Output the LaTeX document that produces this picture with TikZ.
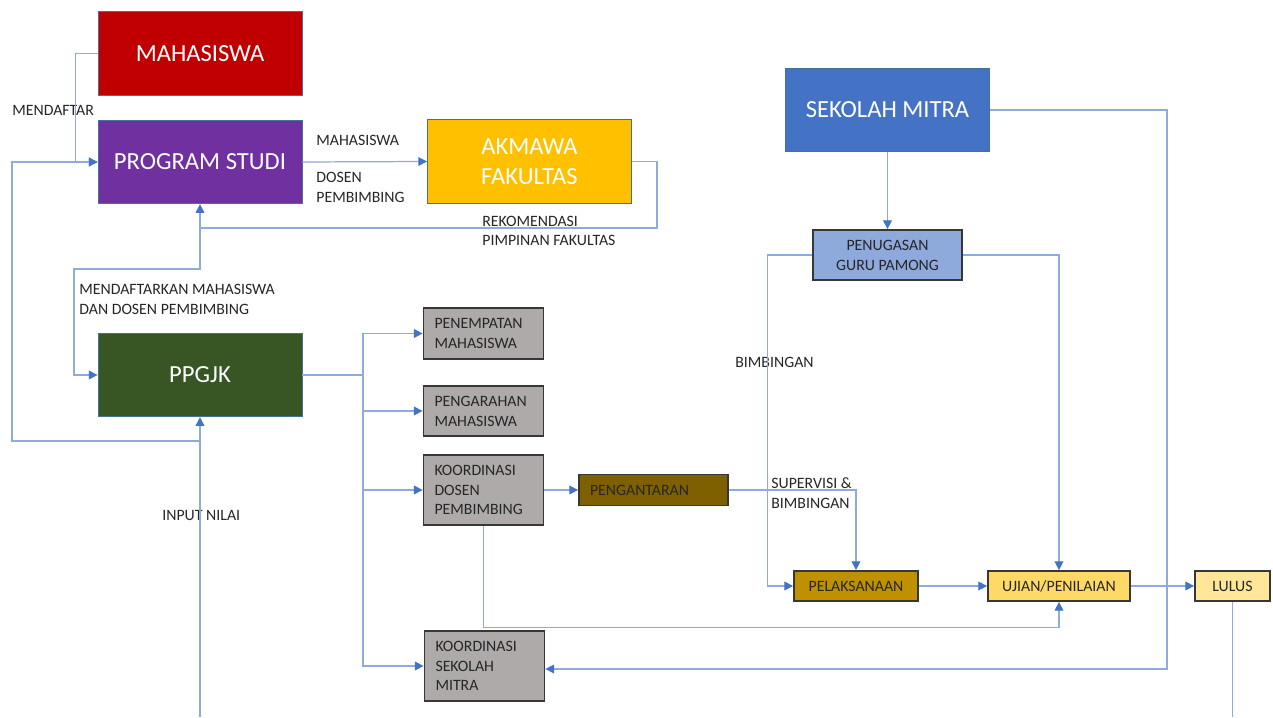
\documentclass[tikz,border=0pt]{standalone}
\usepackage{fontspec}
\setmainfont{Carlito}
\usetikzlibrary{arrows.meta,positioning}
\definecolor{lnblue}{RGB}{143,170,220}
\definecolor{tipblue}{RGB}{68,114,196}
\definecolor{edgeblue}{RGB}{65,113,156}
\definecolor{edgedark}{RGB}{55,55,55}
\definecolor{txtdark}{RGB}{38,38,38}
\newcommand\bigbox[4]{\node(#1)[big,fill=#3] at (#2) {#4};}
\newcommand\lbl[3]{\node(#1)[lbl] at (#2) {#3};}

\begin{document}
\begin{tikzpicture}[
    big/.style={draw=edgeblue,line width=.5pt,minimum width=4.08cm,minimum height=1.67cm,
        text=white,align=center,inner sep=0pt,font=\fontsize{14}{17}\selectfont},
    sbox/.style={draw=edgedark,line width=1pt,text=txtdark,inner sep=0pt,
        minimum height=.6cm,align=center,font=\fontsize{9}{11.3}\selectfont},
    gbox/.style={sbox,fill={rgb,255:red,174;green,170;blue,170},text width=1.96cm,
        inner xsep=.22cm,align=left},
    lbl/.style={anchor=west,text=txtdark,align=left,inner sep=0pt,font=\fontsize{9}{11.3}\selectfont},
    line/.style={draw=lnblue,line width=.7pt},
    conn/.style={line,-{Triangle[length=5pt,width=5pt,color=tipblue]}}]
    \useasboundingbox (0,0) rectangle (25.46,14.34);

    % main boxes
    \bigbox{mhs}{4.00,13.27}{{rgb,255:red,192;green,0;blue,0}}{MAHASISWA}
    \bigbox{prodi}{4.00,11.10}{{rgb,255:red,112;green,48;blue,160}}{PROGRAM STUDI}
    \bigbox{akm}{10.59,11.11}{{rgb,255:red,255;green,192;blue,0}}{AKMAWA\\FAKULTAS}
    \bigbox{sek}{17.75,12.14}{{rgb,255:red,68;green,114;blue,196}}{SEKOLAH MITRA}
    \bigbox{ppg}{4.00,6.84}{{rgb,255:red,55;green,86;blue,35}}{PPGJK}

    % small boxes
    \node(gpam)[sbox,fill={rgb,255:red,142;green,169;blue,219},minimum width=2.98cm,minimum height=1cm]
        at (17.75,9.24) {PENUGASAN\\GURU PAMONG};
    \node(pen)[gbox,minimum height=1.02cm] at (9.67,7.67) {PENEMPATAN\\MAHASISWA};
    \node(arah)[gbox,minimum height=1cm] at (9.67,6.12) {PENGARAHAN\\MAHASISWA};
    \node(kdos)[gbox,minimum height=1.4cm] at (9.67,4.54) {KOORDINASI\\DOSEN\\PEMBIMBING};
    \node(ksek)[gbox,minimum height=1.4cm] at (9.69,1.02) {KOORDINASI\\SEKOLAH\\MITRA};
    \node(pgt)[sbox,fill={rgb,255:red,127;green,96;blue,0},text width=2.54cm,inner xsep=.22cm,
        align=left,minimum height=.62cm] at (13.07,4.54) {PENGANTARAN};
    \node(pel)[sbox,fill={rgb,255:red,191;green,144;blue,0},minimum width=2.48cm] at (17.12,2.62) {PELAKSANAAN};
    \node(uji)[sbox,fill={rgb,255:red,255;green,217;blue,102},minimum width=2.84cm] at (21.18,2.62) {UJIAN/PENILAIAN};
    \node(lls)[sbox,fill={rgb,255:red,255;green,230;blue,153},minimum width=1.5cm] at (24.65,2.62) {LULUS};

    % labels
    \lbl{l1}{0.24,12.14}{MENDAFTAR}
    \lbl{l2}{6.32,11.54}{MAHASISWA}
    \lbl{l3}{6.32,10.60}{DOSEN\\PEMBIMBING}
    \lbl{l4}{9.64,9.72}{REKOMENDASI\\PIMPINAN FAKULTAS}
    \lbl{l5}{1.58,8.36}{MENDAFTARKAN MAHASISWA\\DAN DOSEN PEMBIMBING}
    \lbl{l6}{3.24,4.04}{INPUT NILAI}
    \lbl{l7}{14.70,7.10}{BIMBINGAN}
    \lbl{l8}{15.42,4.48}{SUPERVISI \&\\BIMBINGAN}

    % connectors
    \coordinate (rek) at (prodi.south |- 0,9.78);
    \coordinate (loop) at (ppg.south |- 0,5.52);
    \coordinate (inp) at (ppg.south |- 0,0);
    \coordinate (bus) at (7.26,6.84);
    \coordinate (end) at (lls.south |- 0,0);
    \draw[conn] (mhs.west) -- ++(-.44,0) |- (prodi.west);
    \draw[conn] (prodi.east) -- (akm.west);
    \draw[conn] (akm.east) -- ++(.5,0) |- (rek) -- (prodi.south);
    \draw[conn] (rek) |- (1.48,8.96) |- (ppg.west);
    \draw[conn] (inp) -- (ppg.south);
    \draw[conn] (loop) -- (.24,5.52) |- (prodi.west);
    \draw[line] (ppg.east) -- (bus);
    \foreach \n in {pen,arah,kdos,ksek}
        \draw[conn] (bus) |- (\n.west);
    \draw[conn] (kdos.east) -- (pgt.west);
    \draw[conn] (pgt.east) -| (pel.north);
    \draw[conn] (kdos.south) -- ++(0,-2.04) -| (uji.south);
    \draw[conn] (sek.south) -- (gpam.north);
    \draw[conn] (gpam.west) -- ++(-.9,0) |- (pel.west);
    \draw[conn] (gpam.east) -| (uji.north);
    \draw[conn] (sek.east) -- ++(3.54,0) |- ([yshift=-.06cm]ksek.east);
    \draw[conn] (pel.east) -- (uji.west);
    \draw[conn] (uji.east) -- (lls.west);
    \draw[line] (lls.south) -- (end);
\end{tikzpicture}
\end{document}
